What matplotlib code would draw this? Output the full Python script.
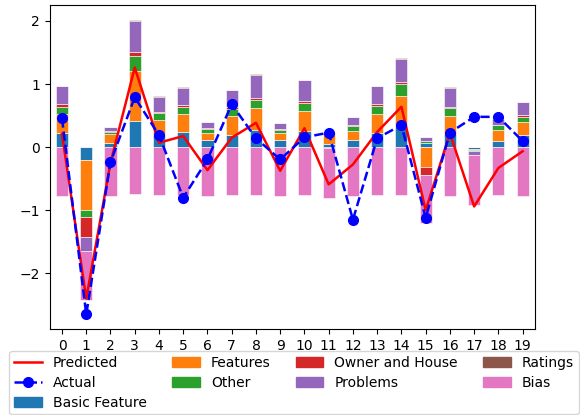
import numpy as np
import matplotlib
matplotlib.use("Agg")
import matplotlib.pyplot as plt
from matplotlib.lines import Line2D
from matplotlib.patches import Patch

idx = np.arange(20)

# doprinosi po grupama (ocitano sa slike)
basic = [0.22, -0.21, 0.065, 0.41, 0.185, 0.24, 0.117, 0.196, 0.275, 0.106,
         0.25, 0.045, 0.12, 0.23, 0.32, 0.07, 0.21, -0.03, 0.09, 0.196]
features = [0.31, -0.78, 0.148, 0.79, 0.24, 0.28, 0.11, 0.30, 0.34, 0.117,
            0.32, 0.17, 0.14, 0.30, 0.49, -0.32, 0.29, -0.015, 0.185, 0.20]
other = [0.105, -0.11, 0.026, 0.24, 0.117, 0.117, 0.053, 0.106, 0.13, 0.053,
         0.13, -0.02, 0.08, 0.117, 0.185, 0.02, 0.12, -0.02, 0.07, 0.08]
owner = [0.045, -0.32, 0.016, 0.074, 0.016, 0.037, 0.02, 0.026, 0.027, 0.016,
         0.027, 0.0, 0.016, 0.032, 0.042, -0.12, 0.02, 0.0, 0.01, 0.027]
problems = [0.29, -0.22, 0.058, 0.48, 0.24, 0.27, 0.095, 0.275, 0.37, 0.085,
            0.33, 0.0, 0.117, 0.286, 0.36, 0.07, 0.30, -0.065, 0.09, 0.21]
ratings = [0.005, 0.0, 0.005, 0.025, 0.008, 0.005, 0.005, 0.005, 0.016, 0.005,
           0.008, 0.005, 0.005, 0.005, 0.008, 0.0, 0.005, 0.0, 0.005, 0.005]
bias = [-0.77, -0.79, -0.77, -0.75, -0.76, -0.76, -0.78, -0.76, -0.76, -0.78,
        -0.76, -0.79, -0.78, -0.76, -0.76, -0.76, -0.78, -0.79, -0.76, -0.78]

predicted = [0.21, -2.40, -0.25, 1.26, 0.07, 0.175, -0.365, 0.15, 0.385, -0.375,
             0.30, -0.59, -0.275, 0.24, 0.64, -1.0, 0.22, -0.94, -0.33, -0.065]
actual = [0.455, -2.65, -0.24, 0.79, 0.19, -0.80, -0.196, 0.68, 0.14, -0.196,
          0.155, 0.23, -1.15, 0.14, 0.35, -1.12, 0.23, 0.48, 0.48, 0.095]

groups = [("Basic Feature", basic, "tab:blue"),
          ("Features", features, "tab:orange"),
          ("Other", other, "tab:green"),
          ("Owner and House", owner, "tab:red"),
          ("Problems", problems, "tab:purple"),
          ("Ratings", ratings, "tab:brown"),
          ("Bias", bias, "tab:pink")]

fig = plt.figure(figsize=(5.8, 4.15), dpi=100)
ax = fig.add_axes([0.086, 0.207, 0.836, 0.781])

# pozitivni se slazu nagore, negativni nadole
pos_bottom = np.zeros(len(idx))
neg_bottom = np.zeros(len(idx))
for name, vals, col in groups:
    v = np.array(vals)
    bottom = np.where(v >= 0, pos_bottom, neg_bottom)
    ax.bar(idx, v, width=0.5, bottom=bottom, color=col,
           edgecolor="white", linewidth=0.4, zorder=2)
    pos_bottom += np.where(v >= 0, v, 0)
    neg_bottom += np.where(v < 0, v, 0)

ax.plot(idx, predicted, "-", color="red", linewidth=1.8, zorder=3)
ax.plot(idx, actual, "--", color="blue", marker="o", markersize=7,
        linewidth=1.8, zorder=4)

ax.set_xlim(-0.5, 19.5)
ax.set_xticks(idx)
ax.set_yticks([-2, -1, 0, 1, 2])
ax.tick_params(labelsize=10)

handles = [Line2D([], [], color="red", linewidth=1.8),
           Line2D([], [], color="blue", linestyle="--", marker="o", markersize=7, linewidth=1.8)]
labels = ["Predicted", "Actual"]
for name, vals, col in groups:
    handles.append(Patch(color=col))
    labels.append(name)

fig.legend(handles, labels, loc="upper center", bbox_to_anchor=(0.507, 1 - 351 / 415),
           ncol=4, fontsize=10, borderaxespad=0.0, labelspacing=0.42,
           columnspacing=1.8, borderpad=0.35)

plt.savefig("out.png", dpi=100)
